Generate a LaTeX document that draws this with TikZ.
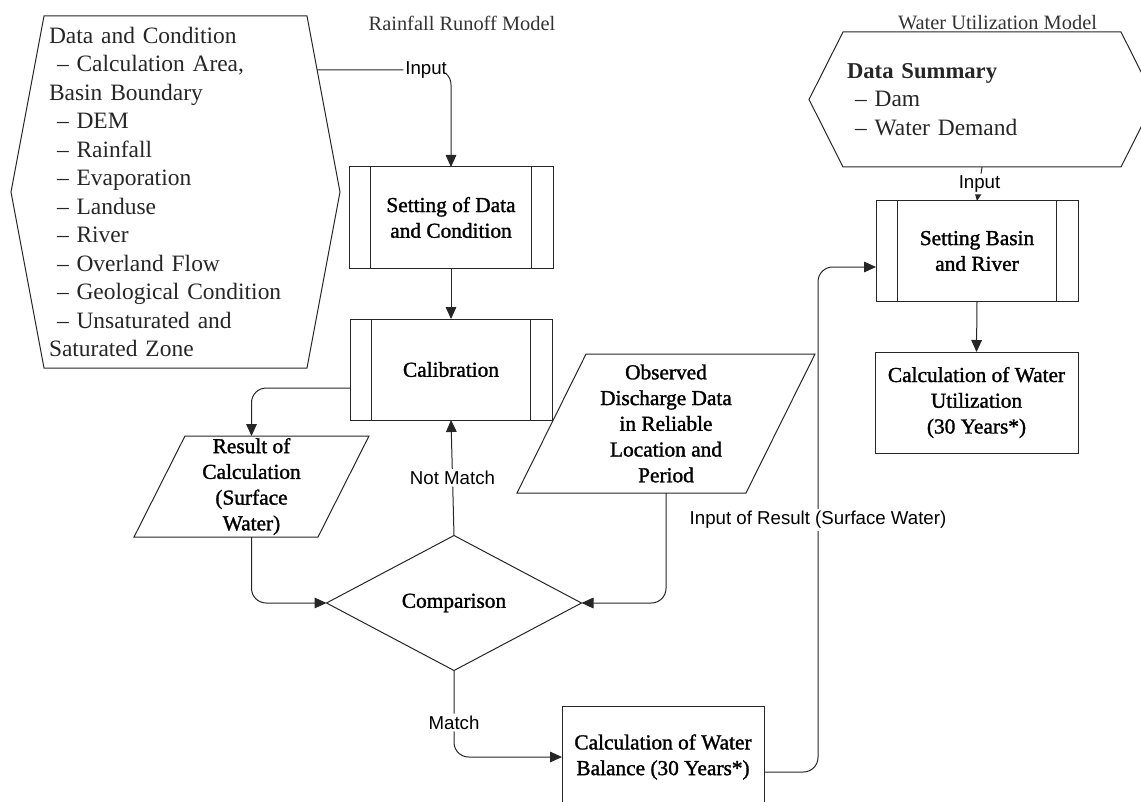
\documentclass[tikz,border=0pt]{standalone}
\usepackage{fontspec}
\setmainfont{Liberation Serif}
\newfontfamily\lblfont{Liberation Sans}
\newfontfamily\boxfont{Liberation Serif}[FakeBold=1.4]
\usetikzlibrary{arrows.meta,shapes.geometric,calc}
\newdimen\pxu \pxu=0.75pt
\newcommand\dashitem{\hspace*{6pt}–\ }
\begin{document}
\begin{tikzpicture}[x=0.75pt,y=-0.75pt,line width=0.75pt,
  ln/.style={draw=black!85},
  hextext/.style={font=\fontsize{17.6}{21.4}\selectfont, align=left, inner ysep=0pt, outer sep=0pt, text=black!85},
  boxtext/.style={font=\boxfont\fontsize{16}{19.3}\selectfont, align=center, inner sep=0pt, outer sep=0pt},
  plainbox/.style={boxtext, draw=black!85, rectangle, minimum width=202\pxu, minimum height=101\pxu},
  pbox/.style={plainbox, path picture={
      \draw[black!85] ([xshift=21.5\pxu]path picture bounding box.north west) -- ([xshift=21.5\pxu]path picture bounding box.south west);
      \draw[black!85] ([xshift=-21.5\pxu]path picture bounding box.north east) -- ([xshift=-21.5\pxu]path picture bounding box.south east);}},
  title/.style={font=\fontsize{15.3}{18}\selectfont, text=black!80, inner sep=0pt},
  lbl/.style={font=\lblfont\fontsize{14}{16}\selectfont, fill=white, inner sep=1.5pt, text=black},
  arr/.style={draw=black!85, -{Triangle[length=9pt,width=8pt]}, rounded corners=11pt}
]
\path[use as bounding box] (0,0) rectangle (1141,802);
\clip (0,0) rectangle (1141,802);

% titles
\node[title] (t1) at (462,23) {Rainfall Runoff Model};
\node[title] (t2) at (997.5,23) {Water Utilization Model};

% left hexagon
\node[hextext, text width=253\pxu, inner xsep=5\pxu, minimum height=352\pxu] (hexL) at (175.5,192)
 {Data and Condition\\ \dashitem Calculation Area,\\Basin Boundary\\ \dashitem DEM\\ \dashitem Rainfall\\ \dashitem Evaporation\\ \dashitem Landuse\\ \dashitem River\\ \dashitem Overland Flow\\ \dashitem Geological Condition\\ \dashitem Unsaturated and\\Saturated Zone};
\draw[ln] (hexL.north west) -- (hexL.north east) -- ([xshift=24.75pt]hexL.east) -- (hexL.south east) -- (hexL.south west) -- ([xshift=-24.75pt]hexL.west) -- cycle;

% right hexagon
\node[hextext, text width=270\pxu, inner xsep=4\pxu, minimum height=135\pxu] (hexR) at (982,99.5)
 {{\bfseries\fontsize{17}{20.6}\selectfont Data Summary}\\ \dashitem Dam\\ \dashitem Water Demand};
\draw[ln] (hexR.north west) -- (hexR.north east) -- ([xshift=25.5pt]hexR.east) -- (hexR.south east) -- (hexR.south west) -- ([xshift=-25.5pt]hexR.west) -- cycle;

% process boxes
\node[pbox, minimum width=204\pxu] (setD) at (451,217.5) {Setting of Data\\and Condition};
\node[pbox] (calib) at (451,369.5) {Calibration};
\node[pbox, minimum height=100\pxu] (setB) at (977,251) {Setting Basin\\and River};
\node[plainbox, minimum width=203\pxu] (calcU) at (976.5,402.5) {Calculation of Water\\Utilization\\(30 Years*)};
\node[plainbox, minimum height=102\pxu] (bal) at (663,757) {Calculation of Water\\Balance (30 Years*)};

% decision
\node[diamond, draw=black!85, boxtext, minimum width=255\pxu, minimum height=135\pxu, aspect=1.9] (cmp) at (454,603) {Comparison};

% parallelograms
\node[boxtext, minimum width=184\pxu, minimum height=101\pxu] (resC) at (251.5,486.5) {Result of\\Calculation\\(Surface\\Water)};
\draw[ln] ([xshift=19.1pt]resC.north west) -- ([xshift=19.1pt]resC.north east) -- ([xshift=-19.1pt]resC.south east) -- ([xshift=-19.1pt]resC.south west) -- cycle;
\node[boxtext, minimum width=229\pxu, minimum height=139\pxu] (obs) at (666,423.5) {Observed\\Discharge Data\\in Reliable\\Location and\\Period};
\draw[ln] ([xshift=25.9pt]obs.north west) -- ([xshift=25.9pt]obs.north east) -- ([xshift=-25.9pt]obs.south east) -- ([xshift=-25.9pt]obs.south west) -- cycle;

% connectors
\coordinate (inL) at (317,70);
\draw[arr] (inL) -| node[lbl, pos=0.407] {Input} (setD.north);
\draw[arr] (hexR.south) -- node[lbl] {Input} (setB.north);
\draw[arr] (setD.south) -- (calib.north);
\draw[arr] (setB.south) -- (calcU.north);
\draw[arr] ([yshift=-13.9pt]calib.west) -| (resC.north);
\draw[arr] (resC.south) |- (cmp.west);
\draw[arr] (obs.south) |- (cmp.east);
\draw[arr] (cmp.north) -- node[lbl] {Not Match} (calib.south);
\draw[arr] (cmp.south) |- node[lbl, pos=0.3] {Match} (bal.west);
\coordinate (riser) at (818,520);
\draw[arr] ([yshift=-11.25pt]bal.east) -| (riser) |- ([yshift=-12pt]setB.west);
\node[lbl] (inres) at (riser) {Input of Result (Surface Water)};
\end{tikzpicture}
\end{document}
